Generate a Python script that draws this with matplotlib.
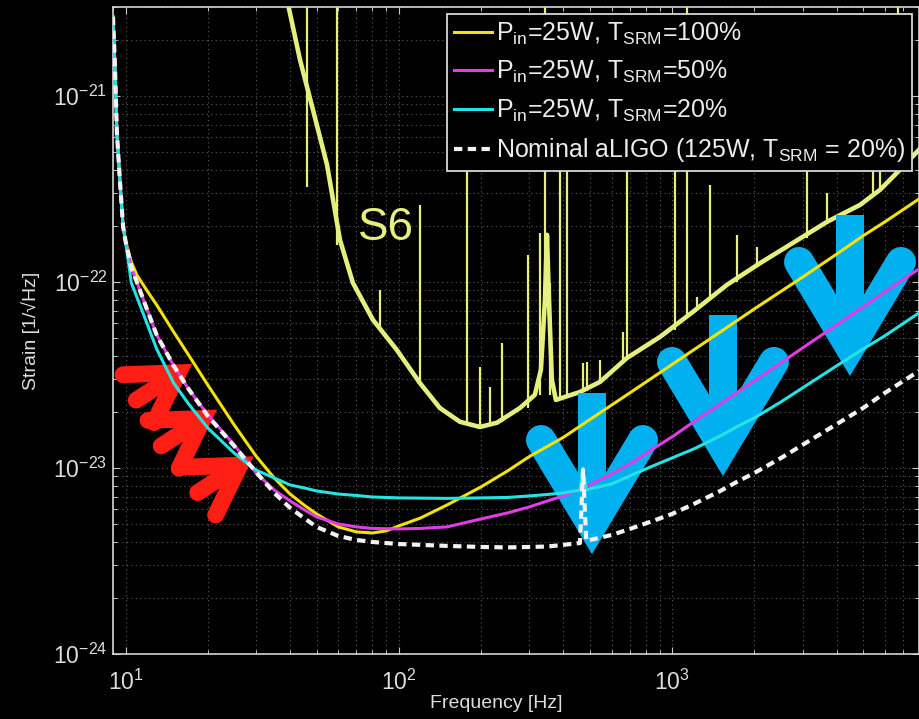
import numpy as np
import matplotlib
matplotlib.use("Agg")
import matplotlib.pyplot as plt
from matplotlib.lines import Line2D
from matplotlib.transforms import IdentityTransform
from matplotlib.ticker import FixedLocator, LogLocator, NullFormatter

plt.rcParams["font.family"] = ["Liberation Sans", "DejaVu Sans"]
plt.rcParams["mathtext.fontset"] = "custom"
plt.rcParams["mathtext.rm"] = "Liberation Sans"
plt.rcParams["mathtext.it"] = "Liberation Sans:italic"
plt.rcParams["mathtext.bf"] = "Liberation Sans:bold"

# ---------------- noise curves (frequency in Hz, strain in 1/sqrt(Hz)) ----------------
freq_yellow = [9.0, 9.15, 9.3, 9.55, 9.8, 10.0, 10.5, 11, 12, 13, 15, 17, 20, 25, 30, 35, 40,
               45, 50, 60, 70, 80, 90, 100, 120, 150, 200, 250, 300, 400, 500, 700, 1000,
               1500, 2000, 3000, 4000, 5000, 6000, 8000]
strain_yellow = [2.66e-21, 1.43e-21, 6.33e-22, 3.41e-22, 1.98e-22, 1.66e-22, 1.28e-22, 1.09e-22,
                 8.94e-23, 7.52e-23, 5.38e-23, 4.05e-23, 2.79e-23, 1.70e-23, 1.16e-23, 8.83e-24,
                 7.24e-24, 6.32e-24, 5.66e-24, 4.82e-24, 4.53e-24, 4.47e-24, 4.59e-24, 4.88e-24,
                 5.38e-24, 6.32e-24, 7.91e-24, 9.64e-24, 1.15e-23, 1.46e-23, 1.82e-23, 2.53e-23,
                 3.60e-23, 5.38e-23, 7.16e-23, 1.06e-22, 1.41e-22, 1.77e-22, 2.10e-22, 2.79e-22]

freq_magenta = [9.0, 9.15, 9.3, 9.55, 9.8, 10.0, 10.5, 11, 12, 13, 15, 17, 20, 25, 30, 35, 40,
                45, 50, 60, 70, 80, 100, 120, 150, 200, 250, 300, 350, 400, 500, 600, 700, 850,
                1000, 1200, 1500, 2000, 3000, 4000, 5000, 6000, 8000]
strain_magenta = [2.66e-21, 1.43e-21, 6.33e-22, 3.41e-22, 1.98e-22, 1.66e-22, 1.19e-22, 1.0e-22,
                  7.07e-23, 5.19e-23, 3.54e-23, 2.66e-23, 1.93e-23, 1.33e-23, 9.40e-24, 7.61e-24,
                  6.65e-24, 5.97e-24, 5.45e-24, 5.00e-24, 4.82e-24, 4.73e-24, 4.70e-24, 4.73e-24,
                  4.82e-24, 5.32e-24, 5.73e-24, 6.17e-24, 6.65e-24, 7.07e-24, 8.10e-24, 9.28e-24,
                  1.05e-23, 1.265e-23, 1.47e-23, 1.77e-23, 2.21e-23, 2.94e-23, 4.41e-23, 5.88e-23,
                  7.34e-23, 8.83e-23, 1.175e-22]

freq_cyan = [9.0, 9.15, 9.3, 9.55, 9.8, 10.0, 10.5, 11, 12, 13, 15, 17, 20, 25, 30, 35, 40, 45,
             50, 60, 70, 80, 100, 150, 200, 250, 300, 350, 400, 460, 472, 485, 500, 600, 700,
             850, 1000, 1200, 1500, 1750, 2000, 2500, 3000, 4000, 5000, 6000, 8000]
strain_cyan = [2.66e-21, 1.43e-21, 6.33e-22, 3.41e-22, 1.98e-22, 1.66e-22, 9.88e-23, 8.30e-23,
               5.94e-23, 4.36e-23, 2.86e-23, 2.21e-23, 1.64e-23, 1.20e-23, 9.75e-24, 8.83e-24,
               8.10e-24, 7.81e-24, 7.52e-24, 7.24e-24, 7.11e-24, 6.98e-24, 6.90e-24, 6.86e-24,
               6.90e-24, 6.94e-24, 7.07e-24, 7.20e-24, 7.34e-24, 7.61e-24, 1.0e-23, 7.61e-24,
               7.71e-24, 8.20e-24, 9.06e-24, 1.025e-23, 1.132e-23, 1.265e-23, 1.486e-23,
               1.682e-23, 1.857e-23, 2.263e-23, 2.692e-23, 3.54e-23, 4.36e-23, 5.13e-23, 6.81e-23]

freq_nominal = [9.0, 9.15, 9.3, 9.55, 9.8, 10.0, 10.5, 11, 12, 13, 15, 17, 20, 25, 30, 35, 40,
                45, 50, 60, 70, 80, 100, 120, 150, 200, 250, 300, 350, 400, 460, 472, 485, 500,
                600, 700, 850, 1000, 1200, 1500, 1750, 2000, 2500, 3000, 4000, 5000, 6000, 8000]
strain_nominal = [2.66e-21, 1.43e-21, 6.33e-22, 3.41e-22, 1.98e-22, 1.66e-22, 1.19e-22, 1.0e-22,
                  7.07e-23, 5.19e-23, 3.54e-23, 2.66e-23, 1.90e-23, 1.31e-23, 9.52e-24, 7.34e-24,
                  6.10e-24, 5.38e-24, 4.82e-24, 4.31e-24, 4.10e-24, 4.00e-24, 3.90e-24, 3.86e-24,
                  3.81e-24, 3.76e-24, 3.74e-24, 3.76e-24, 3.78e-24, 3.86e-24, 3.95e-24, 9.76e-24,
                  4.05e-24, 4.10e-24, 4.36e-24, 4.70e-24, 5.19e-24, 5.66e-24, 6.40e-24, 7.52e-24,
                  8.51e-24, 9.40e-24, 1.13e-23, 1.33e-23, 1.72e-23, 2.10e-23, 2.53e-23, 3.32e-23]

# S6 measured sensitivity: broadband floor plus narrow lines
freq_s6 = [39.0, 43.5, 48.5, 54.6, 60.9, 67.9, 80.4, 98.4, 119.4, 141.3, 167.3, 198, 228.6,
           277.4, 314.5, 331, 342.4, 348.3, 354.2, 363, 375.5, 460, 544.5, 683.5, 902.6, 1191,
           1587, 2096, 2767, 3683, 4865, 5755, 6810, 8000]
strain_s6 = [3.28e-21, 1.56e-21, 8.41e-22, 4.26e-22, 1.68e-22, 9.88e-23, 6.25e-23, 4.30e-23,
             2.86e-23, 2.10e-23, 1.77e-23, 1.66e-23, 1.75e-23, 2.10e-23, 2.47e-23, 3.37e-23,
             8.0e-23, 1.79e-22, 8.0e-23, 2.97e-23, 2.32e-23, 2.56e-23, 2.90e-23, 3.90e-23,
             5.06e-23, 6.90e-23, 9.64e-23, 1.26e-22, 1.62e-22, 2.10e-22, 2.59e-22, 3.12e-22,
             4.0e-22, 5.13e-22]
line_freq_s6 = [46.0, 59.4, 85.3, 119.4, 177.4, 198, 215.4, 238.2, 296.7, 328.4, 342.4, 357.3,
                388.7, 412.4, 472, 488, 544.5, 661, 683.5, 1024, 1132, 1233, 1375, 1726, 2045,
                3112, 3683, 5433, 5755, 6692]
line_low_s6 = [3.24e-22, 1.58e-22, 5.73e-23, 2.86e-23, 1.72e-23, 1.66e-23, 1.68e-23, 1.77e-23,
               2.10e-23, 2.47e-23, 8.0e-23, 2.47e-23, 2.32e-23, 2.40e-23, 2.56e-23, 2.60e-23,
               2.90e-23, 3.81e-23, 3.90e-23, 5.52e-23, 6.40e-23, 7.0e-23, 8.0e-23, 1.0e-22,
               1.22e-22, 1.72e-22, 2.10e-22, 2.86e-22, 3.12e-22, 4.26e-22]
line_high_s6 = [5e-21, 5e-21, 9.06e-23, 2.59e-22, 2.0e-21, 3.49e-23, 2.73e-23, 4.70e-23,
                1.40e-22, 1.83e-22, 5e-21, 9.88e-23, 2.0e-21, 2.0e-21, 3.67e-23, 3.70e-23,
                3.81e-23, 5.38e-23, 2.0e-21, 2.0e-21, 5e-21, 8.3e-23, 3.32e-22, 1.79e-22,
                1.54e-22, 2.0e-21, 3.0e-22, 2.0e-21, 2.0e-21, 5e-21]

# arrow glyph anchors (tip position in frequency / strain)
blue_tip_freq = [509, 1534, 4473]
blue_tip_strain = [3.49e-24, 9.17e-24, 3.16e-23]
red_tip_freq = [17.46, 21.54, 29.3]
red_tip_strain = [3.61e-23, 2.05e-23, 1.15e-23]

x_ticks = [10, 100, 1000]
y_ticks = [1e-24, 1e-23, 1e-22, 1e-21]

labels = [r"P$_{\mathrm{in}}$=25W, T$_{\mathrm{SRM}}$=100%",
          r"P$_{\mathrm{in}}$=25W, T$_{\mathrm{SRM}}$=50%",
          r"P$_{\mathrm{in}}$=25W, T$_{\mathrm{SRM}}$=20%",
          r"Nominal aLIGO (125W, T$_{\mathrm{SRM}}$ = 20%)"]

# ---------------- styling ----------------
BG = "black"
TXT = "#dedede"
S6_COLOR = "#e4ef7e"
YELLOW = "#f2e20a"
MAGENTA = "#e03de4"
CYAN = "#22e4e4"
WHITE = "#f2f2f2"
BLUE = "#00b0ef"
RED = "#ff1e14"
DPI = 100

fig = plt.figure(figsize=(9.19, 7.19), dpi=DPI, facecolor=BG)
ax = fig.add_axes([113 / 919, 65 / 719, 806 / 919, 647 / 719], facecolor=BG)
ax.set_xscale("log")
ax.set_yscale("log")
ax.set_xlim(9, 8000)
ax.set_ylim(1e-24, 3e-21)
ax.set_autoscale_on(False)

ax.xaxis.set_major_locator(FixedLocator(x_ticks))
ax.yaxis.set_major_locator(FixedLocator(y_ticks))
ax.xaxis.set_minor_locator(LogLocator(base=10, subs=np.arange(2, 10)))
ax.yaxis.set_minor_locator(LogLocator(base=10, subs=np.arange(2, 10)))
ax.xaxis.set_minor_formatter(NullFormatter())
ax.yaxis.set_minor_formatter(NullFormatter())

ax.grid(True, which="both", color="#5a5a5a", linestyle=(0, (1, 3)), linewidth=0.8)
ax.set_axisbelow(True)
for sp in ax.spines.values():
    sp.set_color("#d4d4d4")
    sp.set_linewidth(1.2)
ax.tick_params(which="both", direction="in", top=True, right=True, colors="#c8c8c8",
               labelcolor=TXT, labelsize=16.5)
ax.tick_params(which="major", length=5, width=0.8)
ax.tick_params(which="minor", length=3, width=0.7)
ax.tick_params(axis="x", pad=11)
ax.tick_params(axis="y", pad=4)

ax.set_xlabel("Frequency [Hz]", fontsize=14, color=TXT)
ax.set_ylabel("Strain [1/\u221aHz]", fontsize=14, color=TXT)
ax.xaxis.set_label_coords(0.476, -0.064)
ax.yaxis.set_label_coords(-0.09, 0.5)

# S6 spectrum
ax.plot(freq_s6, strain_s6, color=S6_COLOR, lw=3.3, solid_joinstyle="round", zorder=2)
ax.vlines(line_freq_s6, line_low_s6, line_high_s6, color=S6_COLOR, lw=1.6, zorder=2)
ax.text(70.8, 1.68e-22, "S6", color=S6_COLOR, fontsize=33, ha="left", va="baseline", zorder=2)


def draw_glyph(f, h, angle_deg, size, color, shaft_back, shaft_w, shaft_cap):
    """Thick arrow glyph with a mitred chevron head; tip at (f, h)."""
    x0, y0 = ax.transData.transform((f, h))
    a = np.deg2rad(angle_deg)
    ca, sa = np.cos(a), np.sin(a)
    pt = 72.0 / DPI

    def place(uv):
        uv = np.asarray(uv, float) * size
        return x0 + uv[:, 0] * ca - uv[:, 1] * sa, y0 + uv[:, 0] * sa + uv[:, 1] * ca

    sx, sy = place([[-40, 0], [-shaft_back, 0]])
    ax.add_artist(Line2D(sx, sy, transform=IdentityTransform(), lw=shaft_w * size * pt,
                         color=color, solid_capstyle=shaft_cap, zorder=3))
    hx, hy = place([[-113, 51], [-28, 0], [-113, -51]])
    ax.add_artist(Line2D(hx, hy, transform=IdentityTransform(), lw=30 * size * pt,
                         color=color, solid_capstyle="round", solid_joinstyle="miter",
                         zorder=3))


for f, h in zip(blue_tip_freq, blue_tip_strain):
    draw_glyph(f, h, -90, 1.0, BLUE, 160, 28, "butt")
for f, h in zip(red_tip_freq, red_tip_strain):
    draw_glyph(f, h, 33, 0.56, RED, 118, 30, "round")

# quantum-noise curves
l1, = ax.plot(freq_yellow, strain_yellow, color=YELLOW, lw=2.2, zorder=4)
l2, = ax.plot(freq_magenta, strain_magenta, color=MAGENTA, lw=2.2, zorder=4)
l3, = ax.plot(freq_cyan, strain_cyan, color=CYAN, lw=2.2, zorder=4)
l4, = ax.plot(freq_nominal, strain_nominal, color=WHITE, lw=3.0, dashes=(2.0, 1.3),
              dash_capstyle="butt", zorder=5)

leg = ax.legend([l1, l2, l3, l4], labels, loc="upper right", bbox_to_anchor=(0.991, 0.989),
                borderaxespad=0, fontsize=18, handlelength=1.55, handletextpad=0.15,
                labelspacing=0.5, borderpad=0.25, fancybox=False, framealpha=1,
                facecolor=BG, edgecolor="#d8d8d8")
leg.get_frame().set_linewidth(1.3)
leg.set_zorder(10)
for t in leg.get_texts():
    t.set_color("#ececec")

fig.savefig("out.png", dpi=DPI, facecolor=BG)
